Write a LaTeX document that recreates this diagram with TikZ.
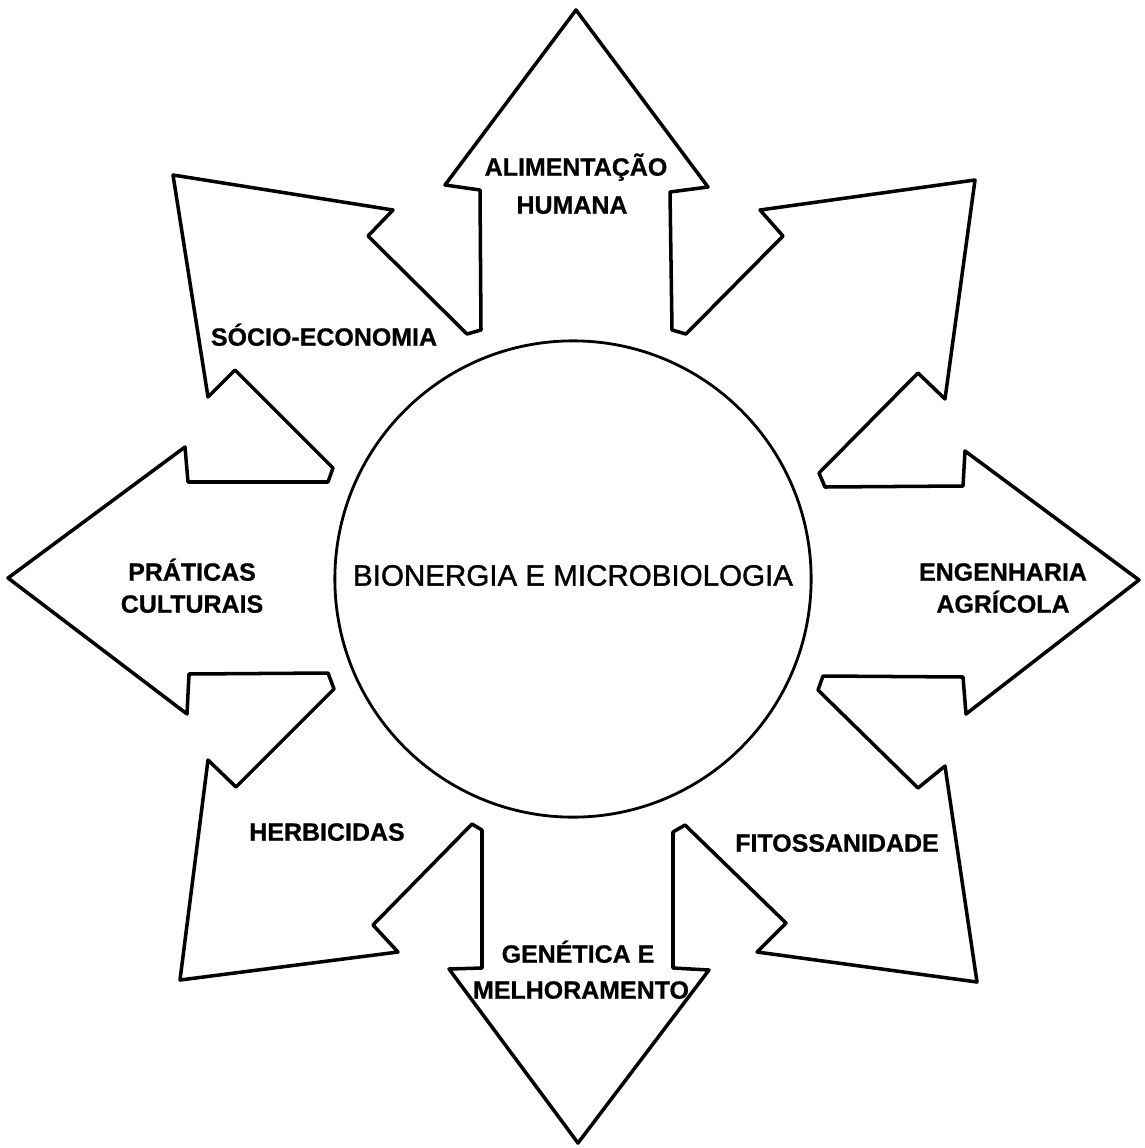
\documentclass[tikz,border=0pt]{standalone}
\usepackage{fontspec}
\setmainfont{Liberation Sans}
\newfontfamily\midfont[FakeBold=1.2]{Liberation Sans}
\newfontfamily\heavyfont[FakeBold=0.8]{Liberation Sans Bold}
\begin{document}
\begin{tikzpicture}[x=0.01cm,y=-0.01cm,
  outline/.style={draw=black, line width=1.0pt, line join=round},
  hub/.style={draw=black, line width=0.8pt, circle, minimum size=4.76cm, inner sep=0},
  lab/.style={font=\fontsize{7.1pt}{8.5pt}\heavyfont, inner sep=0, text height=0.72em, text depth=0pt, anchor=center},
  centre/.style={font=\fontsize{8.4pt}{10pt}\midfont, inner sep=0, text height=0.72em, text depth=0pt, anchor=center}]
\useasboundingbox (0,0) rectangle (1144,1148);
\fill[white] (0,0) rectangle (1144,1148);
% star of eight arrows
\draw[outline]
  (576,10) -- (708,187) -- (670,192) -- (672,330)
  -- (686,334) -- (783,236) -- (760,210) -- (975,180) -- (945,399) -- (918,373) -- (819,473) -- (825,487)
  -- (963,486) -- (965,451) -- (1139,580) -- (966,714) -- (963,677) -- (823,676)
  -- (818,690) -- (918,788) -- (945,766) -- (977,982) -- (757,952) -- (786,923) -- (685,825) -- (673,832)
  -- (673,968) -- (709,970) -- (578,1143) -- (449,969) -- (482,968) -- (482,830)
  -- (472,824) -- (373,925) -- (398,952) -- (180,980) -- (208,760) -- (236,787) -- (334,689) -- (328,673)
  -- (189,674) -- (187,714) -- (8,578) -- (185,447) -- (188,482) -- (328,482)
  -- (333,468) -- (235,370) -- (208,397) -- (173,175) -- (393,210) -- (368,236) -- (467,334) -- (481,330)
  -- (480,190) -- (445,185) -- cycle;
% central circle
\node[hub] (hubc) at (573,579) {};
\node[centre] (title) at (573,573) {BIONERGIA E MICROBIOLOGIA};
% labels
\node[lab] (alim1) at (576,163) {ALIMENTAÇÃO};
\node[lab] (alim2) at (572,201) {HUMANA};
\node[lab] (socio) at (324,333) {SÓCIO-ECONOMIA};
\node[lab] (prat1) at (192,568) {PRÁTICAS};
\node[lab] (prat2) at (192,600) {CULTURAIS};
\node[lab] (herb) at (327,828) {HERBICIDAS};
\node[lab] (gen1) at (578,950) {GENÉTICA E};
\node[lab] (gen2) at (581,986) {MELHORAMENTO};
\node[lab] (fito) at (837,839) {FITOSSANIDADE};
\node[lab] (eng1) at (1003,568) {ENGENHARIA};
\node[lab] (eng2) at (1003,600) {AGRÍCOLA};
\end{tikzpicture}
\end{document}
